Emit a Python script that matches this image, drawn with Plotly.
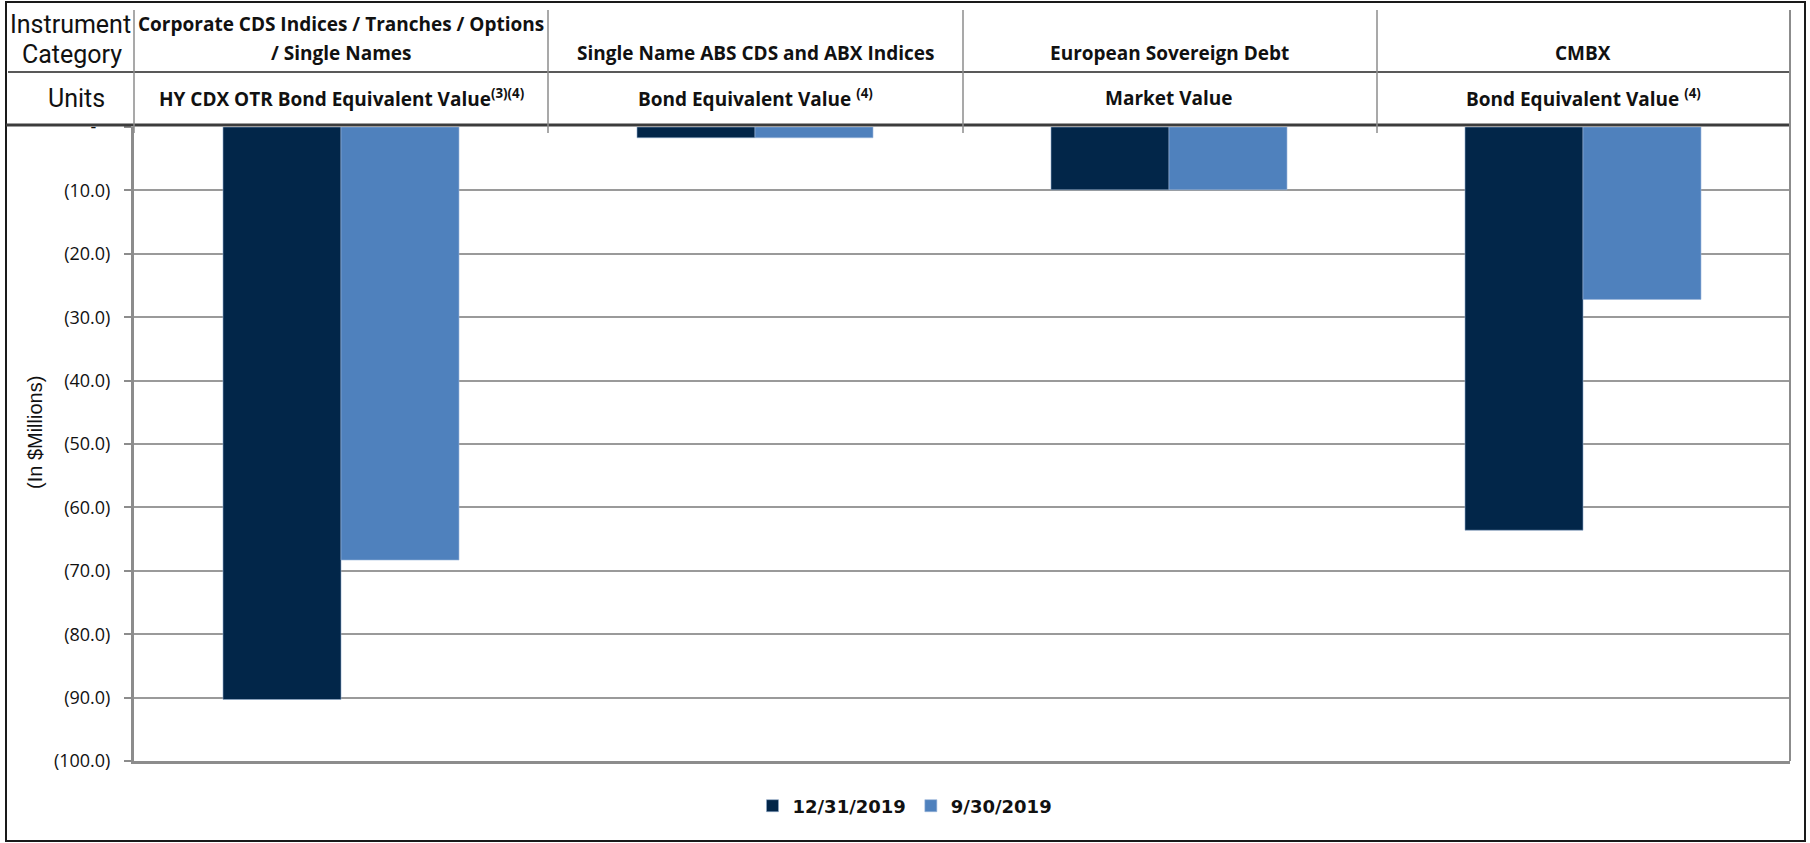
import plotly.graph_objects as go

# ---------------- data ----------------
categories = ["Corporate CDS", "Single Name ABS", "European Sovereign", "CMBX"]
category_lines = [
    ["Corporate CDS Indices / Tranches / Options", "/ Single Names"],
    ["Single Name ABS CDS and ABX Indices"],
    ["European Sovereign Debt"],
    ["CMBX"],
]
unit_labels = [
    "HY CDX OTR Bond Equivalent Value<sup>(3)(4)</sup>",
    "Bond Equivalent Value <sup>(4)</sup>",
    "Market Value",
    "Bond Equivalent Value <sup>(4)</sup>",
]
series_names = ["12/31/2019", "9/30/2019"]
values_dec2019 = [-90.3, -1.7, -9.9, -63.6]
values_sep2019 = [-68.3, -1.7, -9.9, -27.2]
tick_values = [0, -10, -20, -30, -40, -50, -60, -70, -80, -90, -100]
tick_labels = ["-\u00a0\u00a0\u00a0", "(10.0)", "(20.0)", "(30.0)", "(40.0)", "(50.0)",
               "(60.0)", "(70.0)", "(80.0)", "(90.0)", "(100.0)"]
y_title = "(In $Millions)"
row_titles = [["Instrument", "Category"], ["Units"]]

# ---------------- layout geometry (pixels) ----------------
W, H = 1810, 843
L, R, T, B = 134, 1790, 127, 761
PW, PH = R - L, B - T


def xp(px):
    return (px - L) / PW


def yp(py):
    return (B - py) / PH


DARK = "#022649"
LIGHT = "#4F81BD"
GRID = "#9a9a9a"
AXIS = "#8c8c8c"

fig = go.Figure()
fig.add_trace(go.Bar(x=categories, y=values_dec2019, name=series_names[0],
                     marker=dict(color=DARK, line=dict(color="#8fa9c9", width=0.6))))
fig.add_trace(go.Bar(x=categories, y=values_sep2019, name=series_names[1],
                     marker=dict(color=LIGHT, line=dict(color="#9ab6da", width=0.6))))

shapes = []
# outer frame
shapes.append(dict(type="rect", xref="paper", yref="paper", x0=xp(6), x1=xp(1805), y0=yp(841), y1=yp(2),
                   line=dict(color="#1a1a1a", width=2), layer="above"))
# row separator line
shapes.append(dict(type="line", xref="paper", yref="paper", x0=xp(8), x1=xp(R), y0=yp(72), y1=yp(72),
                   line=dict(color="#222222", width=1.5)))
# header bottom line (plot top)
shapes.append(dict(type="line", xref="paper", yref="paper", x0=xp(6), x1=xp(R), y0=yp(125), y1=yp(125),
                   line=dict(color="#3c3c3c", width=3)))
# vertical separators
for sx in [134, 548, 963, 1377]:
    shapes.append(dict(type="line", xref="paper", yref="paper", x0=xp(sx), x1=xp(sx), y0=yp(10), y1=yp(133),
                       line=dict(color=AXIS, width=1.5)))
# right border
shapes.append(dict(type="line", xref="paper", yref="paper", x0=xp(R), x1=xp(R), y0=yp(10), y1=yp(B),
                   line=dict(color=AXIS, width=2)))

annotations = []
HEAD_FONT = dict(family="Open Sans, Lato, sans-serif", size=19, color="#111111", weight="bold")
NARROW = "Liberation Sans Narrow, Arial Narrow, Roboto, sans-serif"
# category row
for cat, lines in zip(categories, category_lines):
    n = len(lines)
    for i, line in enumerate(lines):
        py = 53 - (n - 1 - i) * 29
        annotations.append(dict(x=cat, xref="x", y=yp(py), yref="paper", text="<b>%s</b>" % line,
                                showarrow=False, xanchor="center", yanchor="middle", font=HEAD_FONT))
# units row
for cat, u in zip(categories, unit_labels):
    annotations.append(dict(x=cat, xref="x", y=yp(98), yref="paper", text="<b>%s</b>" % u,
                            showarrow=False, xanchor="center", yanchor="middle", font=HEAD_FONT))
# row titles
annotations.append(dict(x=xp(70), xref="paper", y=yp(25), yref="paper", text=row_titles[0][0],
                        showarrow=False, xanchor="center", yanchor="middle",
                        font=dict(family=NARROW, size=25, color="#111111")))
annotations.append(dict(x=xp(72), xref="paper", y=yp(54), yref="paper", text=row_titles[0][1],
                        showarrow=False, xanchor="center", yanchor="middle",
                        font=dict(family=NARROW, size=25, color="#111111")))
annotations.append(dict(x=xp(76), xref="paper", y=yp(98), yref="paper", text=row_titles[1][0],
                        showarrow=False, xanchor="center", yanchor="middle",
                        font=dict(family=NARROW, size=25, color="#111111")))
# y axis title
annotations.append(dict(x=xp(35), xref="paper", y=yp(433), yref="paper", text=y_title, textangle=-90,
                        showarrow=False, xanchor="center", yanchor="middle",
                        font=dict(family="Liberation Sans, Arial, sans-serif", size=20, color="#111111")))

fig.update_layout(
    width=W, height=H, autosize=False,
    margin=dict(l=L, r=W - R, t=T, b=H - B, pad=0),
    paper_bgcolor="white", plot_bgcolor="white",
    barmode="group", bargap=0.43, bargroupgap=0,
    shapes=shapes, annotations=annotations,
    showlegend=True, hovermode=False,
    legend=dict(orientation="h", x=xp(905), xanchor="center", y=yp(806), yanchor="middle",
                font=dict(family="DejaVu Sans, sans-serif", size=18, color="#111111", weight="bold"),
                itemclick=False, traceorder="normal"),
    xaxis=dict(showticklabels=False, ticks="", showgrid=False, zeroline=False,
               showline=True, linecolor=AXIS, linewidth=3),
    yaxis=dict(range=[-100, 0], tickvals=tick_values, ticktext=tick_labels,
               tickfont=dict(family="Open Sans, sans-serif", size=18, color="#111111"),
               ticks="outside", ticklen=7, tickwidth=2, tickcolor=AXIS, ticklabelstandoff=10,
               showline=True, linecolor=AXIS, linewidth=3,
               showgrid=True, gridcolor=GRID, gridwidth=1.5, zeroline=False),
)

fig.write_html("out.html", config={"displayModeBar": False},
               post_script="document.body.style.margin='0';document.body.style.overflow='hidden';")
